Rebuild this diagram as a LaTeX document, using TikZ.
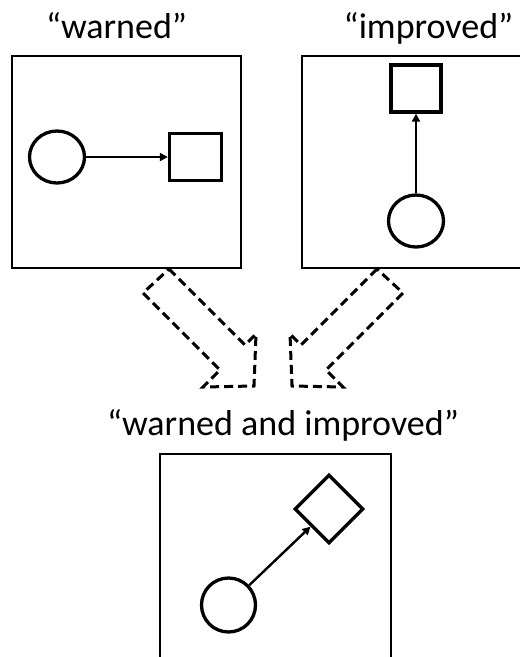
\documentclass[tikz,border=0pt]{standalone}
\usepackage{fontspec}
\setmainfont{Carlito}
\usetikzlibrary{arrows.meta, shapes.geometric, positioning}

\tikzset{
  panel/.style={draw, line width=1.5pt, inner sep=0pt},
  obj/.style={draw, line width=3.3pt, inner sep=0pt},
  link/.style={line width=2.4pt, -{Triangle[length=8pt,width=8pt]}},
  blockarrow/.style={line width=3pt, dash pattern=on 9pt off 5pt, line join=miter},
  caption/.style={anchor=base, font=\fontsize{36}{42}\selectfont}
}

\begin{document}
\begin{tikzpicture}[x=1pt, y=-1pt]
	\useasboundingbox (0,0) rectangle (520,657);
	% frames and titles
	\draw (126.5,162) node[panel, minimum width=229pt, minimum height=212pt] (f1) {}
		(412,162) node[panel, minimum width=220pt, minimum height=212pt] (f2) {}
		(275.5,567) node[panel, minimum width=231pt, minimum height=226pt] (f3) {};
	\draw (116.5,38) node[caption] (t1) {“warned”}
		(428.5,38) node[caption] (t2) {“improved”}
		(283,435) node[caption] (t3) {“warned and improved”};
	
	% warned
	\draw (57,157) node[obj, ellipse, minimum width=55pt, minimum height=52pt] (c1) {}
		(195.5,157) node[obj, rectangle, minimum width=52pt, minimum height=47pt] (s1) {};
	% improved
	\draw (416,221) node[obj, ellipse, minimum width=55pt, minimum height=52pt] (c2) {}
		(416,88.5) node[obj, rectangle, minimum width=50pt, minimum height=47pt] (s2) {};
	% warned and improved
	\draw (228.5,605) node[obj, circle, minimum size=54pt] (c3) {}
		(329,509) node[obj, diamond, aspect=1, minimum width=69pt, minimum height=69pt] (d3) {};
	
	\draw[link] (c1) -- (s1);
	\draw[link] (c2) -- (s2);
	\draw[link] (c3) -- (d3);
	
	% hollow dashed arrows
	\draw[blockarrow] (169,269) -- (245,345) -- (256,334) -- (254,386) -- (203,387) -- (220,370) -- (143,293) -- cycle;
	\draw[blockarrow] (377,269) -- (301,345) -- (290,334) -- (292,386) -- (343,387) -- (326,370) -- (403,293) -- cycle;
\end{tikzpicture}
\end{document}
